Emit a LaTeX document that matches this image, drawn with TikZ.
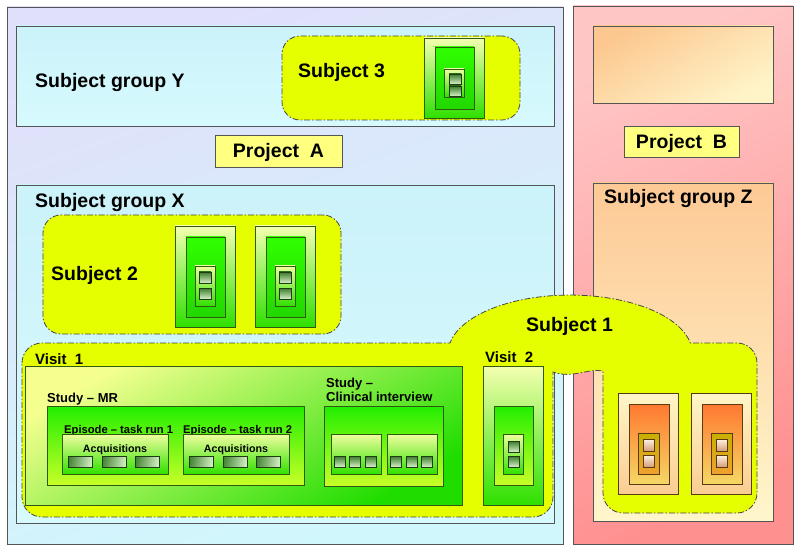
\documentclass[tikz,border=0pt]{standalone}
\usepackage{fontspec}
\setmainfont{Liberation Sans}
\usetikzlibrary{fit}
\definecolor{yel}{HTML}{E6FF00}
\definecolor{bord}{HTML}{555555}
\definecolor{gbord}{HTML}{2F5A10}
\definecolor{obord}{HTML}{5A3A10}
\tikzset{
  bx/.style={inner sep=0pt, outer sep=0pt, line width=0.8pt},
  projAst/.style={draw=bord, top color={rgb,255:red,224;green,224;blue,250}, bottom color={rgb,255:red,208;green,248;blue,252}, shading angle=20},
  grp/.style={draw=bord, top color={rgb,255:red,204;green,242;blue,250}, bottom color={rgb,255:red,214;green,250;blue,253}},
  projBst/.style={draw=bord, top color={rgb,255:red,255;green,198;blue,198}, bottom color={rgb,255:red,255;green,144;blue,144}, shading angle=25},
  peachA/.style={draw=bord, top color={rgb,255:red,252;green,200;blue,144}, bottom color={rgb,255:red,255;green,244;blue,200}, shading angle=30},
  peachB/.style={draw=bord, top color={rgb,255:red,253;green,201;blue,149}, bottom color={rgb,255:red,255;green,246;blue,204}},
  subj/.style={fill=yel, draw={rgb,255:red,70;green,70;blue,70}, line width=0.8pt, dash pattern=on 6pt off 2pt on 1.5pt off 2pt},
  lblbox/.style={draw=bord, fill={rgb,255:red,255;green,255;blue,128}, line width=0.8pt, text height=14pt, text depth=0pt, inner sep=0pt},
  gframe/.style={draw=gbord, top color={rgb,255:red,244;green,255;blue,176}, bottom color={rgb,255:red,46;green,224;blue,0}},
  ginner/.style={draw=gbord, top color={rgb,255:red,48;green,255;blue,0}, bottom color={rgb,255:red,34;green,216;blue,0}},
  ginner2/.style={draw=gbord, top color={rgb,255:red,34;green,238;blue,0}, bottom color={rgb,255:red,200;green,255;blue,40}},
  gsmall/.style={draw=gbord, top color={rgb,255:red,240;green,255;blue,160}, bottom color={rgb,255:red,48;green,224;blue,0}},
  gsq/.style={draw={rgb,255:red,30;green,60;blue,20}, top color={rgb,255:red,58;green,122;blue,42}, bottom color={rgb,255:red,216;green,240;blue,200}},
  gacq/.style={draw={rgb,255:red,30;green,60;blue,20}, left color={rgb,255:red,70;green,135;blue,55}, right color={rgb,255:red,208;green,236;blue,192}, shading angle=80},
  visit1/.style={draw=gbord, top color={rgb,255:red,244;green,255;blue,144}, bottom color={rgb,255:red,32;green,221;blue,0}, shading angle=30},
  oframe/.style={draw=obord, top color={rgb,255:red,255;green,246;blue,200}, bottom color={rgb,255:red,250;green,205;blue,145}},
  oinner/.style={draw=obord, top color={rgb,255:red,255;green,120;blue,48}, bottom color={rgb,255:red,245;green,215;blue,100}},
  osmall/.style={draw=obord, top color={rgb,255:red,200;green,176;blue,0}, bottom color={rgb,255:red,240;green,160;blue,48}},
  osq/.style={draw=obord, top color={rgb,255:red,255;green,242;blue,228}, bottom color={rgb,255:red,214;green,158;blue,120}},
  big/.style={inner sep=0pt, font=\fontsize{19.5}{22}\selectfont\bfseries},
  mid/.style={inner sep=0pt, font=\fontsize{15}{17}\selectfont\bfseries},
  sml/.style={inner sep=0pt, font=\fontsize{13}{14}\selectfont\bfseries},
  tiny/.style={inner sep=0pt, font=\fontsize{11.2}{13}\selectfont\bfseries},
  tinier/.style={inner sep=0pt, font=\fontsize{10.7}{12}\selectfont\bfseries},
}
\newcommand\rb[6]{\node[bx,#2,fit={(#3,#4)(#5,#6)}] (#1) {};}
\begin{document}
\begin{tikzpicture}[x=1pt,y=-1pt]
\useasboundingbox (0,0) rectangle (800,553);
\fill[white] (0,0) rectangle (800,553);
% project A
\rb{projA}{projAst}{7}{7}{563}{544}
\rb{grpY}{grp}{16}{26}{554}{126}
\rb{grpX}{grp}{16}{185}{554}{523}
% project B
\rb{projB}{projBst}{573}{6}{793}{544}
\rb{grpW}{peachA}{593}{26}{773}{103}
\rb{grpZ}{peachB}{593}{183}{773}{521}
\node[lblbox, minimum width=127pt, minimum height=32pt, font=\fontsize{19.5}{22}\selectfont\bfseries] (pA) at (278.5,151) {Project\ \ A};
\node[lblbox, minimum width=115pt, minimum height=31pt, font=\fontsize{19.5}{22}\selectfont\bfseries] (pB) at (681.5,141.5) {Project\ \ B};
\node[big, anchor=base west] (lY) at (35,88) {Subject group Y};
\node[big, anchor=base west] (lX) at (35,208) {Subject group X};
\node[big, anchor=base west] (lZ) at (604,204) {Subject group Z};
% subject 3
\rb{subj3}{subj, rounded corners=18pt}{282}{36}{520}{120}
\node[big, anchor=base west] (l3) at (298,78) {Subject 3};
\rb{s3f}{gframe}{424}{38}{484}{118}
\rb{s3g}{ginner}{435}{47}{474}{109}
\rb{s3s}{gsmall}{444}{69}{464}{97}
\rb{s3a}{gsq}{449}{74}{461}{84}
\rb{s3b}{gsq}{449}{86}{461}{96}
% subject 2
\rb{subj2}{subj, rounded corners=18pt}{43}{215}{341}{334}
\node[big, anchor=base west] (l2) at (51,280) {Subject 2};
\foreach \x/\n in {175/1,255/2}{
  \rb{s2f\n}{gframe}{\x}{226}{\x+60}{327}
  \rb{s2g\n}{ginner}{\x+11}{237}{\x+50}{317}
  \rb{s2s\n}{gsmall}{\x+20}{266}{\x+40}{306}
  \rb{s2a\n}{gsq}{\x+24}{272}{\x+36}{283}
  \rb{s2b\n}{gsq}{\x+24}{288}{\x+36}{299}
}
% subject 1 shape
\path[subj] (22,363) arc[start angle=180, end angle=270, radius=20]
  -- (450,343) arc[start angle=190, end angle=350, x radius=122, y radius=58]
  -- (737,343) arc[start angle=270, end angle=360, radius=20]
  -- (757,493) arc[start angle=0, end angle=90, radius=20]
  -- (623,513) arc[start angle=90, end angle=180, radius=20]
  -- (603,371) .. controls (588,368) and (572,379) .. (553,372)
  -- (553,497) arc[start angle=0, end angle=90, radius=20]
  -- (42,517) arc[start angle=90, end angle=180, radius=20]
  -- cycle;
\node[big, anchor=base west] (l1) at (526,331) {Subject 1};
% visit 1
\node[mid, anchor=base west] (lv1) at (35,364) {Visit\ \ 1};
\rb{v1}{visit1}{25}{366}{462}{505}
\node[sml, anchor=base west] (lmr) at (47,402) {Study – MR};
\rb{mr}{ginner2}{47}{406}{304}{485}
\node[tiny, anchor=base west] (le1) at (64,433) {Episode – task run 1};
\node[tiny, anchor=base west] (le2) at (183,433) {Episode – task run 2};
\rb{ep1}{gsmall}{62}{434}{168}{474}
\rb{ep2}{gsmall}{183}{434}{289}{474}
\node[tinier, anchor=base] (la1) at (115,452) {Acquisitions};
\node[tinier, anchor=base] (la2) at (236,452) {Acquisitions};
\foreach \x/\n in {68/1,102/2,135/3,189/4,223/5,256/6}{
  \rb{acq\n}{gacq}{\x}{456}{\x+24}{467}
}
\node[sml, anchor=base west, align=left] (lci1) at (326,387) {Study –};
\node[sml, anchor=base west] (lci2) at (326,401) {Clinical interview};
\rb{ci}{ginner2}{324}{406}{443}{486}
\rb{ci1}{gsmall}{331}{434}{381}{474}
\rb{ci2}{gsmall}{387}{434}{437}{474}
\foreach \x/\n in {334/1,349/2,365/3,390/4,406/5,421/6}{
  \rb{cis\n}{gsq}{\x}{456}{\x+11.5}{467}
}
% visit 2
\node[mid, anchor=base west] (lv2) at (485,362) {Visit\ \ 2};
\rb{v2}{gframe}{483}{366}{543}{505}
\rb{v2g}{ginner2}{494}{406}{533}{485}
\rb{v2s}{gsmall}{503}{434}{523}{474}
\rb{v2a}{gsq}{508}{441}{519}{452}
\rb{v2b}{gsq}{508}{456}{519}{467}
% orange elements in group Z
\foreach \x/\n in {618/1,691/2}{
  \rb{of\n}{oframe}{\x}{393}{\x+60}{494}
  \rb{oi\n}{oinner}{\x+11}{404}{\x+51}{484}
  \rb{os\n}{osmall}{\x+20}{433}{\x+41}{474}
  \rb{oa\n}{osq}{\x+25}{439}{\x+36}{451}
  \rb{ob\n}{osq}{\x+25}{455}{\x+36}{467}
}
\end{tikzpicture}
\end{document}
